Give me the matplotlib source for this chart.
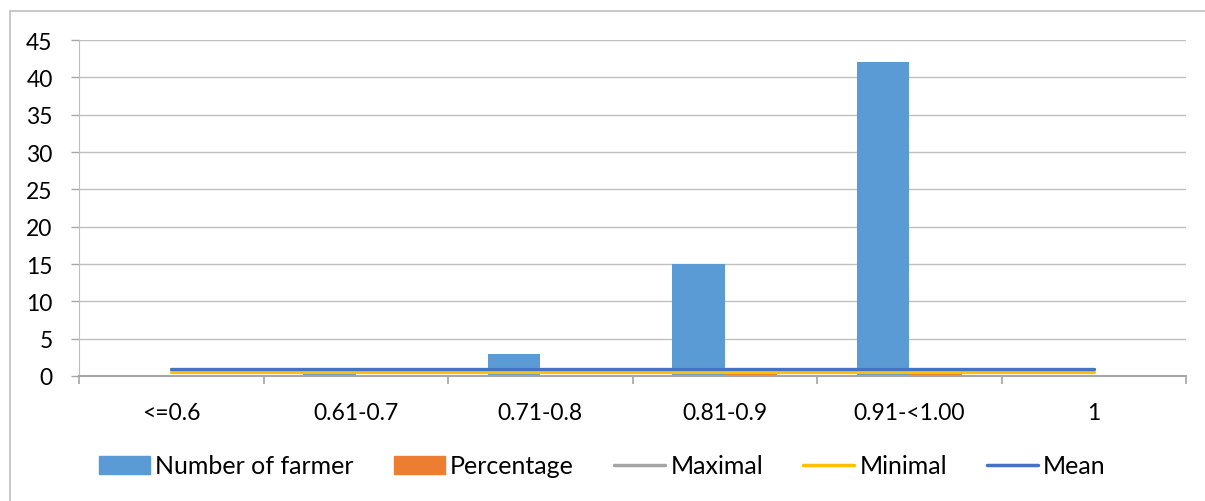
import matplotlib
matplotlib.use("Agg")
import matplotlib.pyplot as plt
import numpy as np
from matplotlib.patches import Rectangle
from matplotlib.lines import Line2D

# Donnees
categories = ["<=0.6", "0.61-0.7", "0.71-0.8", "0.81-0.9", "0.91-<1.00", "1"]
n_farmer = [0, 1, 3, 15, 42, 0]
percentage = [0, 0.02, 0.05, 0.25, 0.69, 0]
maximal = [1.0, 1.0, 1.0, 1.0, 1.0, 1.0]
minimal = [0.55, 0.55, 0.55, 0.55, 0.55, 0.55]
mean = [0.93, 0.93, 0.93, 0.93, 0.93, 0.93]
yticks = list(range(0, 50, 5))

plt.rcParams['font.family'] = ['Lato', 'DejaVu Sans']

fig = plt.figure(figsize=(12.05, 5.02), dpi=100)
ax = fig.add_axes([79 / 1205, 1 - 377 / 502, (1186 - 79) / 1205, (377 - 41) / 502])

x = np.arange(len(categories))
w = 0.285
ax.bar(x - w / 2, n_farmer, w, color='#5B9BD5', zorder=2)
ax.bar(x + w / 2, percentage, w, color='#ED7D31', zorder=2)
ax.plot(x, maximal, color='#A5A5A5', lw=2.3, solid_capstyle='round', zorder=3)
ax.plot(x, minimal, color='#FFC000', lw=2.3, solid_capstyle='round', zorder=3)
ax.plot(x, mean, color='#4472C4', lw=2.3, solid_capstyle='round', zorder=4)

ax.set_xlim(-0.5, len(categories) - 0.5)
ax.set_ylim(0, 45)
ax.set_yticks(yticks)
ax.yaxis.grid(True, color='#BFBFBF', lw=1)
ax.set_axisbelow(True)

# ticks des categories aux limites
ax.set_xticks(np.arange(-0.5, len(categories)), minor=False)
ax.set_xticklabels([])
ax.set_xticks(x, minor=True)
ax.set_xticklabels(categories, minor=True)
ax.tick_params(axis='x', which='major', length=6, color='#A6A6A6', width=1.2)
ax.tick_params(axis='x', which='minor', length=0, pad=19, labelsize=16.5)
ax.tick_params(axis='y', length=6, color='#A6A6A6', width=1, pad=13, labelsize=16.5)

for s in ['top', 'right']:
    ax.spines[s].set_visible(False)
ax.spines['left'].set_color('#BFBFBF')
ax.spines['bottom'].set_color('#A6A6A6')
ax.spines['bottom'].set_linewidth(1.5)

# Legende
handles = [
    Rectangle((0, 0), 1, 1, color='#5B9BD5'),
    Rectangle((0, 0), 1, 1, color='#ED7D31'),
    Line2D([], [], color='#A5A5A5', lw=2.5, solid_capstyle='round'),
    Line2D([], [], color='#FFC000', lw=2.5, solid_capstyle='round'),
    Line2D([], [], color='#4472C4', lw=2.5, solid_capstyle='round'),
]
labels = ["Number of farmer", "Percentage", "Maximal", "Minimal", "Mean"]
fig.legend(handles, labels, loc='center', bbox_to_anchor=(0.5, 1 - 467 / 502),
           ncol=5, frameon=False, fontsize=18, handlelength=2.05, handleheight=0.75,
           handletextpad=0.2, columnspacing=1.6)

# cadre exterieur (seuls les bords haut et gauche sont visibles)
fig.patches.append(Rectangle((10 / 1205, -0.05), 1.1, 1.05 - 12 / 502,
                             transform=fig.transFigure, fill=False,
                             edgecolor='#BFBFBF', lw=1.2))

fig.savefig("out.png", dpi=100)
